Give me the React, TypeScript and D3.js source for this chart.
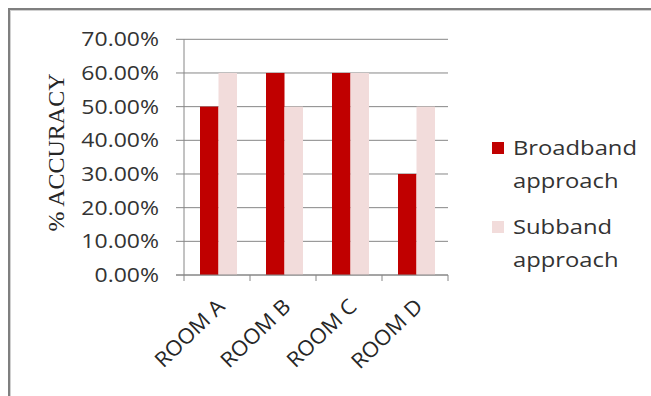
import React from "react";
import * as d3 from "d3";

const rooms = ["ROOM A", "ROOM B", "ROOM C", "ROOM D"];
const seriesNames = ["Broadband approach", "Subband approach"];
const broadband = [0.5, 0.6, 0.6, 0.3];
const subband = [0.6, 0.5, 0.6, 0.5];
const yTicks = [0, 0.1, 0.2, 0.3, 0.4, 0.5, 0.6, 0.7];
const colors = ["#C00000", "#F2DCDB"];

const W = 651;
const H = 396;
const FONT = "'Open Sans', sans-serif";

function SText({ x, y, sx, anchor, size, fill, children, rotate }: any) {
  const rot = rotate ? ` rotate(${rotate})` : "";
  return (
    <text
      transform={`translate(${x},${y})${rot} scale(${sx},1)`}
      textAnchor={anchor}
      fontSize={size}
      fontFamily={FONT}
      fill={fill}
    >
      {children}
    </text>
  );
}

export default function App() {
  const x = d3.scaleBand<string>().domain(rooms).range([184, 448]).padding(0);
  const inner = d3.scaleBand<number>().domain([0, 1]).range([16, 53]).padding(0);
  const y = d3.scaleLinear().domain([0, 0.7]).range([275, 39.3]);
  const fmt = d3.format(".2%");
  const data = [broadband, subband];
  const tickXs = [...rooms.map((r) => x(r) as number), 448];

  return (
    <svg
      width={W}
      height={H}
      style={{ position: "absolute", left: 0, top: 0, background: "#fff" }}
    >
      {/* frame */}
      <line x1={8} x2={W} y1={9} y2={9} stroke="#7f7f7f" strokeWidth={2} />
      <line x1={8} x2={W} y1={10.5} y2={10.5} stroke="#d0d0d0" strokeWidth={1} />
      <line x1={9} x2={9} y1={8} y2={H} stroke="#7f7f7f" strokeWidth={2} />
      <line x1={10.5} x2={10.5} y1={10} y2={H} stroke="#d0d0d0" strokeWidth={1} />

      {/* gridlines */}
      {yTicks.map((t) => (
        <line
          key={t}
          x1={176}
          x2={448}
          y1={y(t)}
          y2={y(t)}
          stroke="#868686"
          strokeWidth={1}
        />
      ))}
      {/* y axis */}
      <line x1={184} x2={184} y1={y(0.7)} y2={y(0)} stroke="#868686" strokeWidth={1} />
      {/* x ticks */}
      {tickXs.map((tx, i) => (
        <line key={i} x1={tx} x2={tx} y1={y(0)} y2={y(0) + 6} stroke="#868686" strokeWidth={1} />
      ))}

      {/* bars */}
      {rooms.map((r, i) =>
        data.map((s, si) => (
          <rect
            key={r + si}
            x={(x(r) as number) + (inner(si) as number)}
            y={y(s[i])}
            width={inner.bandwidth()}
            height={y(0) - y(s[i])}
            fill={colors[si]}
          />
        ))
      )}
      {/* baseline over bars */}
      <line x1={176} x2={448} y1={y(0)} y2={y(0)} stroke="#868686" strokeWidth={1} />

      {/* y tick labels */}
      {yTicks.map((t) => (
        <SText key={t} x={159} y={y(t) + 7} sx={1.15} anchor="end" size={20} fill="#333">
          {fmt(t)}
        </SText>
      ))}

      {/* y axis title */}
      <text
        transform={`translate(64,152.5) rotate(-90)`}
        textAnchor="middle"
        fontSize={24}
        fontFamily="'Liberation Serif', 'Times New Roman', serif"
        fill="#262626"
      >
        % ACCURACY
      </text>

      {/* x labels */}
      {rooms.map((r) => (
        <SText
          key={r}
          x={(x(r) as number) + x.bandwidth() / 2 + 9}
          y={308}
          sx={1.05}
          anchor="end"
          size={21}
          fill="#262626"
          rotate={-44}
        >
          {r}
        </SText>
      ))}

      {/* legend */}
      {seriesNames.map((name, i) => {
        const parts = name.split(" ");
        const top = 142 + i * 79;
        return (
          <g key={name}>
            <rect x={492} y={top} width={12} height={12} fill={colors[i]} />
            <SText x={513} y={top + 13} sx={1.16} anchor="start" size={20.5} fill="#333">
              {parts[0]}
            </SText>
            <SText x={513} y={top + 46} sx={1.16} anchor="start" size={20.5} fill="#333">
              {parts[1]}
            </SText>
          </g>
        );
      })}
    </svg>
  );
}
